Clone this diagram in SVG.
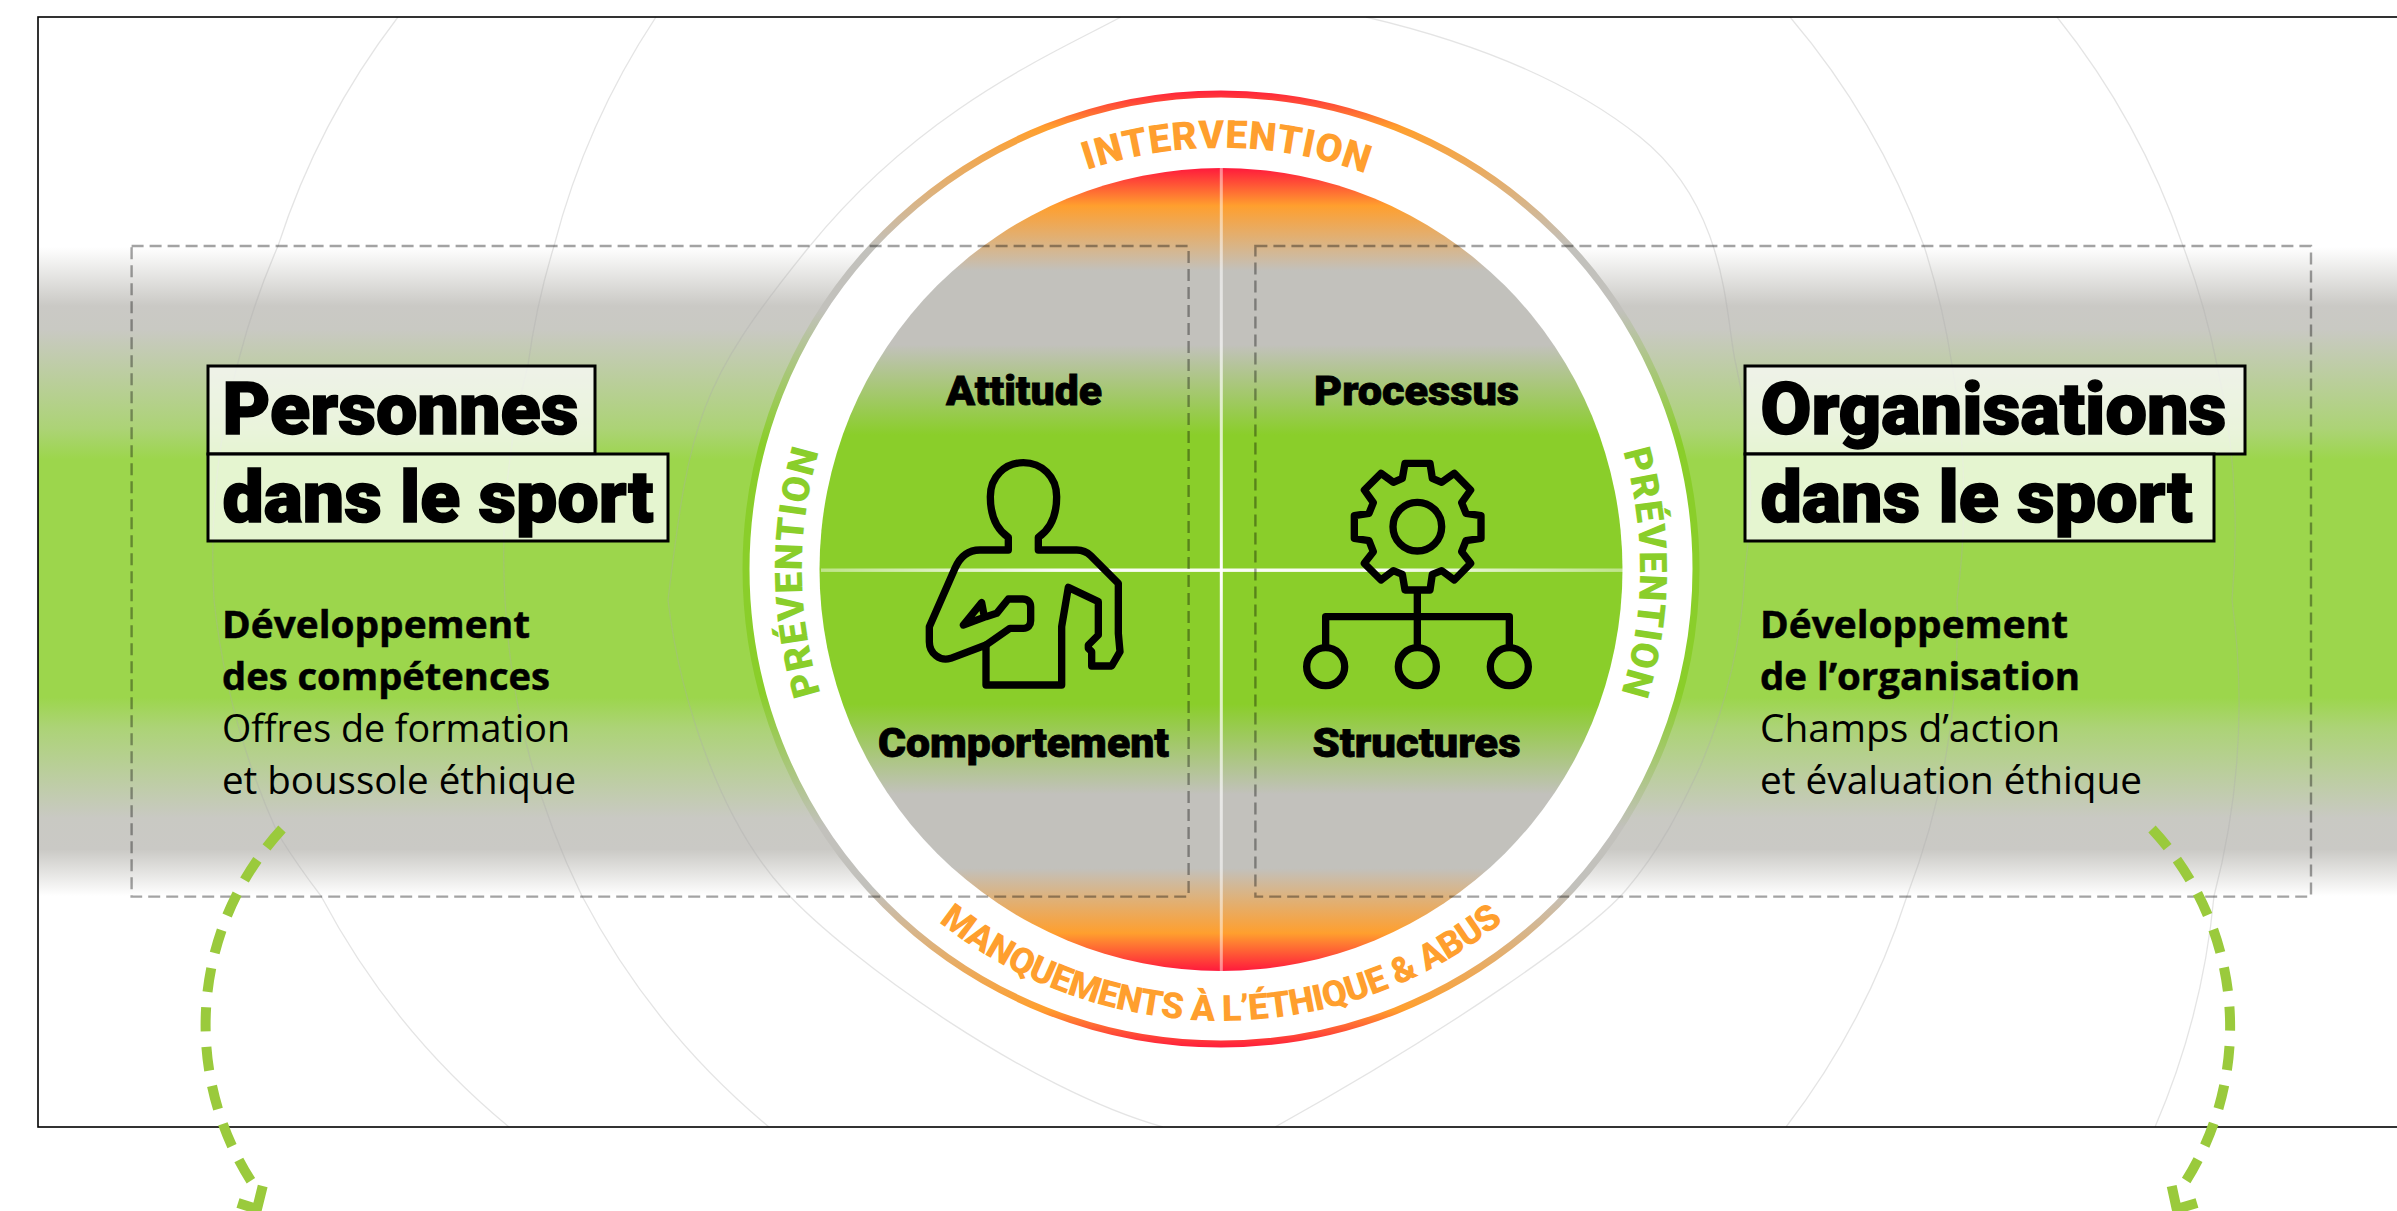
<svg xmlns="http://www.w3.org/2000/svg" width="2397" height="1211" viewBox="0 0 2397 1211">
<defs>
<linearGradient id="band" gradientUnits="userSpaceOnUse" x1="0" x2="0" y1="247" y2="896">
<stop offset="0" stop-color="#fff"/><stop offset=".091" stop-color="#cac9c5"/><stop offset=".127" stop-color="#c9c9c3"/><stop offset=".28" stop-color="#acd376"/><stop offset=".327" stop-color="#9cd64c"/><stop offset=".694" stop-color="#9cd64c"/><stop offset=".74" stop-color="#acd376"/><stop offset=".88" stop-color="#c9c9c3"/><stop offset=".928" stop-color="#cac9c5"/><stop offset="1" stop-color="#fff"/>
</linearGradient>
<linearGradient id="disc" gradientUnits="userSpaceOnUse" x1="0" x2="0" y1="168" y2="971">
<stop offset="0" stop-color="#ff1a3c"/><stop offset=".047" stop-color="#ff9f2e"/><stop offset=".128" stop-color="#c2c1bc"/><stop offset=".22" stop-color="#c2c1bc"/><stop offset=".3325" stop-color="#8ace2a"/><stop offset=".6675" stop-color="#8ace2a"/><stop offset=".78" stop-color="#c2c1bc"/><stop offset=".872" stop-color="#c2c1bc"/><stop offset=".953" stop-color="#ff9f2e"/><stop offset="1" stop-color="#ff1a3c"/>
</linearGradient>
<linearGradient id="ring" gradientUnits="userSpaceOnUse" x1="0" x2="0" y1="89" y2="1048">
<stop offset="0" stop-color="#ff1a3c"/><stop offset=".04" stop-color="#ff9f2e"/><stop offset=".165" stop-color="#c2c1bc"/><stop offset=".23" stop-color="#c2c1bc"/><stop offset=".37" stop-color="#8ace2a"/><stop offset=".63" stop-color="#8ace2a"/><stop offset=".77" stop-color="#c2c1bc"/><stop offset=".835" stop-color="#c2c1bc"/><stop offset=".96" stop-color="#ff9f2e"/><stop offset="1" stop-color="#ff1a3c"/>
</linearGradient>
<linearGradient id="crossH" gradientUnits="userSpaceOnUse" x1="821" x2="1623" y1="0" y2="0">
<stop offset="0" stop-color="#fff" stop-opacity=".45"/><stop offset=".3" stop-color="#fff" stop-opacity=".95"/><stop offset=".7" stop-color="#fff" stop-opacity=".95"/><stop offset="1" stop-color="#fff" stop-opacity=".45"/>
</linearGradient>
<linearGradient id="crossV" gradientUnits="userSpaceOnUse" x1="0" x2="0" y1="168" y2="971">
<stop offset="0" stop-color="#fff" stop-opacity=".45"/><stop offset=".35" stop-color="#fff" stop-opacity=".75"/><stop offset=".5" stop-color="#fff" stop-opacity="1"/><stop offset=".65" stop-color="#fff" stop-opacity=".75"/><stop offset="1" stop-color="#fff" stop-opacity=".45"/>
</linearGradient>
<clipPath id="frame"><rect x="38" y="17" width="2359" height="1110"/></clipPath>
<path id="pTop" d="M800 569A421 421 0 0 1 1642 569"/>
<path id="pBot" d="M769 569A452 452 0 0 0 1673 569"/>
<path id="pLeft" d="M1221 988A419 419 0 0 1 1221 150"/>
<path id="pRight" d="M1221 150A419 419 0 0 1 1221 988"/>
</defs>
<style>
.t{font-family:"Roboto","Liberation Sans",sans-serif;font-weight:900;fill:#000;stroke:#000}
.title{font-size:73px;stroke-width:1.6}
.lab{font-size:41px;stroke-width:.8}
.b{font-family:"Open Sans","Liberation Sans",sans-serif;font-size:38px;fill:#000}
.bb{font-weight:700;stroke:#000;stroke-width:.5}
.box{fill:#fff;fill-opacity:.74;stroke:#000;stroke-width:3}
.dash{fill:none;stroke:#000;stroke-opacity:.36;stroke-width:2.4;stroke-dasharray:12 6}
.arc{fill:none;stroke:#aaa;stroke-opacity:.32;stroke-width:1.3}
.curve{font-family:"Roboto","Liberation Sans",sans-serif;font-weight:900}
.or{fill:#ff9f2e}
.gr{fill:#8ace2a}
.ic{fill:none;stroke:#000;stroke-width:22;stroke-linejoin:round}
.arw{fill:none;stroke:#9aca3c;stroke-width:10}
</style>
<rect width="2397" height="1211" fill="#fff"/>
<g id="background">
<rect x="38" y="247" width="2359" height="649" fill="url(#band)"/>
<g clip-path="url(#frame)">
<path class="arc" d="M398 17A760 760 0 0 0 278 246A760 760 0 0 0 240 355A760 760 0 0 0 214 600A760 760 0 0 0 278 834A760 760 0 0 0 321 896A760 760 0 0 0 509 1127"/>
<path class="arc" d="M656 17A760 760 0 0 0 554 246A760 760 0 0 0 528 365A760 760 0 0 0 505 600A760 760 0 0 0 582 896A760 760 0 0 0 769 1127"/>
<path class="arc" d="M1121 17C1050 55 920 110 809 247S690 420 668 600C680 700 720 820 784 890S1030 1090 1163 1127"/>
<path class="arc" d="M1790 17A760 760 0 0 1 1924 246A760 760 0 0 1 1952 365A760 760 0 0 1 1957 600A760 760 0 0 1 1907 896A760 760 0 0 1 1786 1127"/>
<path class="arc" d="M2057 17A760 760 0 0 1 2183 246A760 760 0 0 1 2217 365A760 760 0 0 1 2232 600A760 760 0 0 1 2214 896A760 760 0 0 1 2155 1127"/>
<path class="arc" d="M1366 17C1430 32 1550 65 1640 137S1725 320 1736 365A560 560 0 0 1 1745 570A560 560 0 0 1 1700 767C1680 810 1660 850 1626 890S1450 1030 1275 1127"/>
</g>
<rect x="38" y="17" width="2365" height="1110" fill="none" stroke="#000" stroke-width="1.6"/>
</g>
<g id="circle">
<circle cx="1221" cy="569" r="475" fill="#fff" stroke="url(#ring)" stroke-width="7"/>
<circle cx="1221" cy="569.5" r="401.5" fill="url(#disc)"/>
<rect x="1219.8" y="168" width="3" height="803" fill="url(#crossV)"/>
<rect x="821" y="568.5" width="802" height="3.4" fill="url(#crossH)"/>
</g>
<g id="ring-labels">
<text class="curve or"><textPath href="#pTop" startOffset="667" text-anchor="middle" font-size="39" letter-spacing=".8">INTERVENTION</textPath></text>
<text class="curve or"><textPath href="#pBot" startOffset="50%" text-anchor="middle" font-size="36" letter-spacing="-.6">MANQUEMENTS À L’ÉTHIQUE &amp; ABUS</textPath></text>
<text class="curve gr"><textPath href="#pLeft" startOffset="49.8%" text-anchor="middle" font-size="38" letter-spacing="1.5">PRÉVENTION</textPath></text>
<text class="curve gr"><textPath href="#pRight" startOffset="50.3%" text-anchor="middle" font-size="38" letter-spacing="1.5">PRÉVENTION</textPath></text>
</g>
<g id="person-box"><rect class="dash" x="131.6" y="246" width="1057" height="650.6"/></g>
<g id="organisation-box"><rect class="dash" x="1255.4" y="246" width="1055.6" height="650.6"/></g>
<g id="attitude"><text class="t lab" x="946" y="404.6" textLength="156" lengthAdjust="spacingAndGlyphs">Attitude</text></g>
<g id="processus"><text class="t lab" x="1314" y="404.6" textLength="205" lengthAdjust="spacingAndGlyphs">Processus</text></g>
<g id="comportement"><text class="t lab" x="878" y="756.7" textLength="291" lengthAdjust="spacingAndGlyphs">Comportement</text></g>
<g id="structures"><text class="t lab" x="1312.5" y="756.7" textLength="208" lengthAdjust="spacingAndGlyphs">Structures</text></g>
<g id="icon-person" transform="translate(910 450) scale(.33333)">
<path class="ic" d="M295 300V262C255 235 241 190 241 140C241 80 285 38 340 38C395 38 440 80 440 140C440 190 425 235 385 262V300H500C518 300 530 305 542 317L625 400V550L630 605L605 648H545V605L535 595V585L565 555V455L475 412L455 530V705H228V585L122 625C90 635 58 610 58 575V530L135 355C150 320 175 300 210 300Z"/>
<path class="ic" d="M228 585L300 535H340C355 535 362 525 362 512V470C362 455 352 447 338 447H295L260 490L228 500L160 525L215 458L222 495"/>
</g>
<g id="icon-structure" transform="translate(1295 450) scale(.33333)">
<path class="ic" d="M330 40H405L412 85L440 97L478 70L527 120L500 158L513 190L558 197V265L513 272L500 305L527 340L478 390L440 362L412 373L405 420H330L322 373L295 362L258 390L208 340L235 305L222 272L178 265V197L222 190L235 158L208 120L258 70L295 97L322 85Z"/>
<circle class="ic" cx="367" cy="230" r="73"/>
<path class="ic" d="M367 420V590M92 590V500H643V590"/>
<circle class="ic" cx="92" cy="650" r="57"/>
<circle class="ic" cx="367" cy="650" r="57"/>
<circle class="ic" cx="643" cy="650" r="57"/>
</g>
<g id="personnes">
<rect class="box" x="208" y="366" width="387" height="88"/>
<rect class="box" x="208" y="454" width="460" height="87"/>
<text class="t title" x="222.5" y="434.4" textLength="356" lengthAdjust="spacingAndGlyphs">Personnes</text>
<text class="t title" x="222.5" y="522.4" textLength="431" lengthAdjust="spacingAndGlyphs">dans le sport</text>
<text class="b bb" x="222" y="638" textLength="308" lengthAdjust="spacingAndGlyphs">Développement</text>
<text class="b bb" x="222" y="689.6" textLength="328" lengthAdjust="spacingAndGlyphs">des compétences</text>
<text class="b" x="222" y="741.5" textLength="348" lengthAdjust="spacingAndGlyphs">Offres de formation</text>
<text class="b" x="222" y="793.5" textLength="354" lengthAdjust="spacingAndGlyphs">et boussole éthique</text>
</g>
<g id="organisations">
<rect class="box" x="1745" y="366" width="500" height="88"/>
<rect class="box" x="1745" y="454" width="469" height="87"/>
<text class="t title" x="1760.5" y="434.4" textLength="466" lengthAdjust="spacingAndGlyphs">Organisations</text>
<text class="t title" x="1760.5" y="522.4" textLength="432" lengthAdjust="spacingAndGlyphs">dans le sport</text>
<text class="b bb" x="1760" y="638" textLength="308" lengthAdjust="spacingAndGlyphs">Développement</text>
<text class="b bb" x="1760" y="689.6" textLength="320" lengthAdjust="spacingAndGlyphs">de l’organisation</text>
<text class="b" x="1760" y="741.5" textLength="300" lengthAdjust="spacingAndGlyphs">Champs d’action</text>
<text class="b" x="1760" y="793.5" textLength="382" lengthAdjust="spacingAndGlyphs">et évaluation éthique</text>
</g>
<g id="connectors">
<path class="arw" stroke-dasharray="24 15.5" d="M282 829A290 290 0 0 0 257 1190"/>
<path class="arw" d="M262.7 1186L257 1209L238 1203"/>
<path class="arw" stroke-dasharray="24 15.5" d="M2152 829A290 290 0 0 1 2180 1190"/>
<path class="arw" d="M2171.7 1186L2176.7 1209L2197 1203"/>
</g>
</svg>
